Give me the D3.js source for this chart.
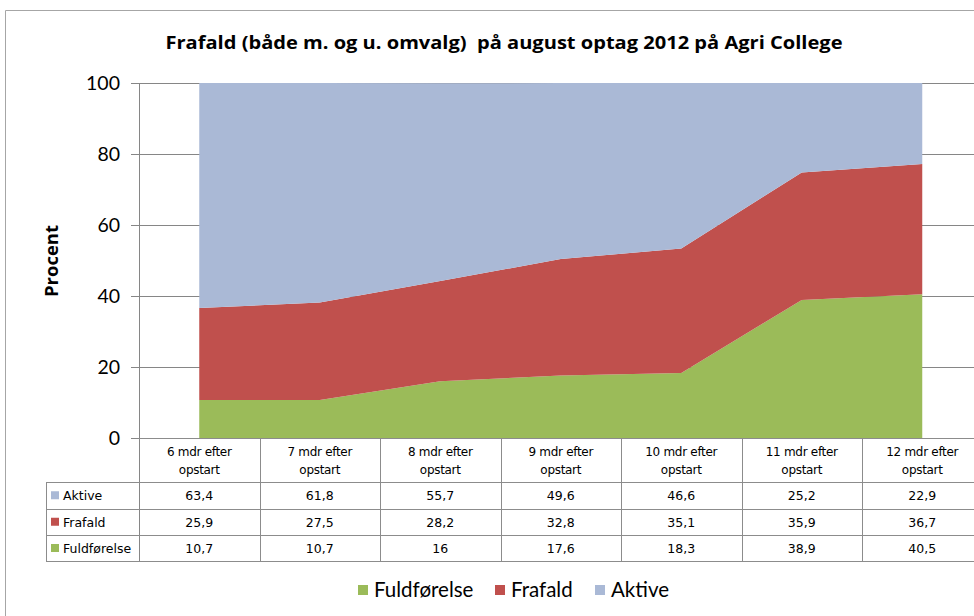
<!DOCTYPE html>
<html>
<head>
<meta charset="utf-8">
<script src="https://cdn.jsdelivr.net/npm/d3@7"></script>
<style>
  body { margin: 0; background: #fff; }
  svg { display: block; }
</style>
</head>
<body>
<svg id="chart" width="974" height="616"></svg>
<script>
// chart data
const categories = ['6 mdr efter opstart', '7 mdr efter opstart', '8 mdr efter opstart',
  '9 mdr efter opstart', '10 mdr efter opstart', '11 mdr efter opstart', '12 mdr efter opstart'];
const fuldforelse = [10.7, 10.7, 16, 17.6, 18.3, 38.9, 40.5];
const frafald = [25.9, 27.5, 28.2, 32.8, 35.1, 35.9, 36.7];
const aktive = [63.4, 61.8, 55.7, 49.6, 46.6, 25.2, 22.9];
const yTicks = [0, 20, 40, 60, 80, 100];

const seriesNames = ['Fuldførelse', 'Frafald', 'Aktive'];
const colors = { 'Fuldførelse': '#9bbb59', 'Frafald': '#c0504d', 'Aktive': '#aab9d6' };
const seriesValues = { 'Fuldførelse': fuldforelse, 'Frafald': frafald, 'Aktive': aktive };
const tableRows = ['Aktive', 'Frafald', 'Fuldførelse'];

const svg = d3.select('#chart');
const fmt = v => String(v).replace('.', ',');

// layout
const plotLeft = 139, colW = 120.5;
const plotTop = 83, plotBottom = 438;

const x = d3.scaleBand().domain(categories).range([plotLeft, plotLeft + colW * categories.length]);
const y = d3.scaleLinear().domain([0, 100]).range([plotBottom, plotTop]);

// outer chart frame
svg.append('path')
  .attr('d', 'M5.5,616 V10.5 H974')
  .attr('fill', 'none')
  .attr('stroke', '#a6a6a6')
  .attr('stroke-width', 1);

// title (keeps the double space after the bracket)
svg.append('text')
  .attr('x', 504).attr('y', 49)
  .attr('text-anchor', 'middle')
  .attr('font-family', '"Open Sans", Lato, sans-serif')
  .attr('font-weight', 'bold')
  .attr('font-size', 18)
  .attr('textLength', 677)
  .attr('lengthAdjust', 'spacingAndGlyphs')
  .style('white-space', 'pre')
  .attr('fill', '#000')
  .text('Frafald (både m. og u. omvalg)  på august optag 2012 på Agri College');

// gridlines
svg.append('g')
  .selectAll('line')
  .data(yTicks)
  .join('line')
  .attr('x1', plotLeft - 8).attr('x2', 974)
  .attr('y1', d => Math.round(y(d)) + 0.5).attr('y2', d => Math.round(y(d)) + 0.5)
  .attr('stroke', '#868686');

// stacked areas
const rows = categories.map((c, i) => {
  const r = { cat: c };
  seriesNames.forEach(s => r[s] = seriesValues[s][i]);
  return r;
});
const stack = d3.stack().keys(seriesNames)(rows);
const area = d3.area()
  .x(d => x(d.data.cat) + x.bandwidth() / 2)
  .y0(d => y(d[0]))
  .y1(d => y(Math.min(d[1], 100)));

svg.append('g')
  .selectAll('path')
  .data(stack)
  .join('path')
  .attr('d', area)
  .attr('fill', d => colors[d.key]);

// y axis line (runs down into the table)
svg.append('line')
  .attr('x1', plotLeft + 0.5).attr('x2', plotLeft + 0.5)
  .attr('y1', plotTop).attr('y2', 561)
  .attr('stroke', '#868686');

// y tick labels
svg.append('g')
  .selectAll('text')
  .data(yTicks)
  .join('text')
  .attr('x', 120)
  .attr('y', d => y(d) + 6.5)
  .attr('text-anchor', 'end')
  .attr('font-family', 'Lato, "Open Sans", sans-serif')
  .attr('font-size', 19.5)
  .attr('fill', '#000')
  .text(d => d);

// y axis title
svg.append('text')
  .attr('transform', 'translate(58,261) rotate(-90)')
  .attr('text-anchor', 'middle')
  .attr('font-family', '"Open Sans", Lato, sans-serif')
  .attr('font-weight', 'bold')
  .attr('font-size', 17)
  .attr('textLength', 72)
  .attr('lengthAdjust', 'spacingAndGlyphs')
  .text('Procent');

// data table
const tableLeft = 46;
const rowY = [438, 482, 508.5, 535, 561];
const tbl = svg.append('g')
  .attr('font-family', '"DejaVu Sans", Verdana, sans-serif')
  .attr('font-size', 12.5)
  .attr('fill', '#000');
const lineCol = '#8c8c8c';

// horizontal lines
rowY.forEach((yy, i) => {
  tbl.append('line')
    .attr('x1', i === 0 ? plotLeft : tableLeft)
    .attr('x2', 974)
    .attr('y1', Math.round(yy) + 0.5).attr('y2', Math.round(yy) + 0.5)
    .attr('stroke', lineCol);
});
// vertical lines
categories.forEach(c => {
  const xx = Math.round(x(c) + x.bandwidth()) + 0.5;
  tbl.append('line')
    .attr('x1', xx).attr('x2', xx)
    .attr('y1', 438).attr('y2', 561)
    .attr('stroke', lineCol);
});
tbl.append('line')
  .attr('x1', tableLeft + 0.5).attr('x2', tableLeft + 0.5)
  .attr('y1', rowY[1]).attr('y2', 561)
  .attr('stroke', lineCol);

// header labels
categories.forEach(c => {
  const words = c.split(' ');
  const cx = x(c) + x.bandwidth() / 2;
  const t = tbl.append('text').attr('x', cx).attr('text-anchor', 'middle')
    .attr('font-size', 12).attr('letter-spacing', -0.3);
  t.append('tspan').attr('x', cx).attr('y', 456).text(words.slice(0, 3).join(' '));
  t.append('tspan').attr('x', cx).attr('y', 474).text(words.slice(3).join(' '));
});

// rows
tableRows.forEach((s, r) => {
  const midY = (rowY[r + 1] + rowY[r + 2]) / 2;
  tbl.append('rect')
    .attr('x', 51).attr('y', midY - 4)
    .attr('width', 8).attr('height', 8)
    .attr('fill', colors[s]);
  tbl.append('text')
    .attr('x', 63).attr('y', midY + 5)
    .text(s);
  seriesValues[s].forEach((v, i) => {
    tbl.append('text')
      .attr('x', x(categories[i]) + x.bandwidth() / 2)
      .attr('y', midY + 5)
      .attr('text-anchor', 'middle')
      .text(fmt(v));
  });
});

// legend
const legendItems = [
  { name: 'Fuldførelse', x: 358 },
  { name: 'Frafald', x: 495 },
  { name: 'Aktive', x: 595 }
];
const lg = svg.append('g')
  .attr('font-family', 'Lato, "Open Sans", sans-serif')
  .attr('font-size', 20.5);
legendItems.forEach(d => {
  lg.append('rect')
    .attr('x', d.x).attr('y', 585)
    .attr('width', 10).attr('height', 10)
    .attr('fill', colors[d.name]);
  lg.append('text')
    .attr('x', d.x + 16).attr('y', 597)
    .text(d.name);
});
</script>
</body>
</html>
